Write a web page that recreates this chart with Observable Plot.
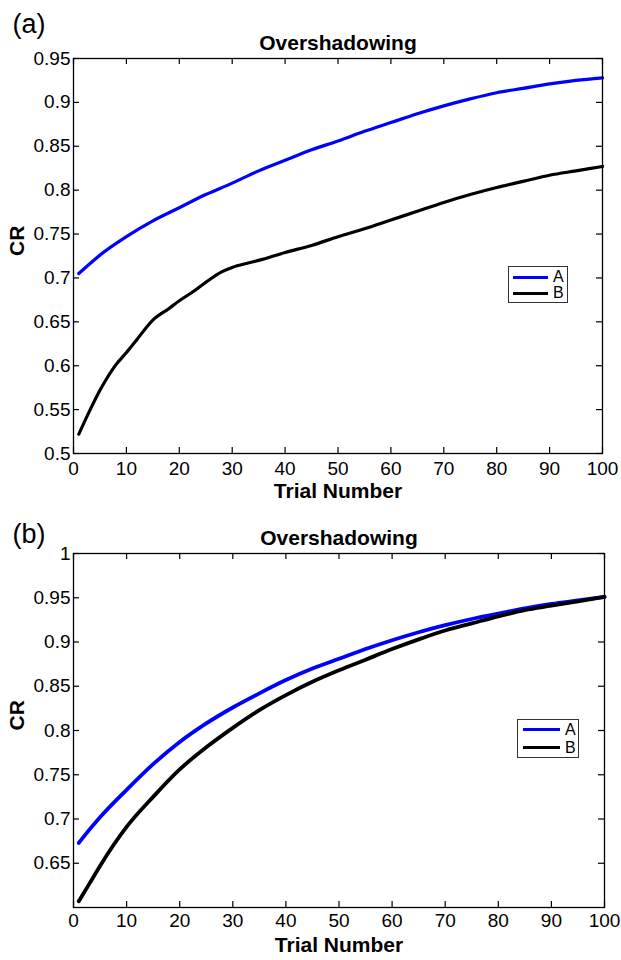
<!DOCTYPE html>
<html><head><meta charset="utf-8">
<script src="https://cdn.jsdelivr.net/npm/d3@7"></script>
<script src="https://cdn.jsdelivr.net/npm/@observablehq/plot@0.6"></script>
<style>
body{margin:0;background:#fff;}
#wrap{position:relative;width:621px;height:960px;font-family:"Liberation Sans",Arial,Helvetica,sans-serif;background:#fff;}
#wrap svg{display:block;overflow:visible;}
.legend{position:absolute;border:1px solid #333;background:#fff;box-sizing:border-box;}
.legend .sw{position:absolute;height:0;border-top-style:solid;}
.legend .lb{position:absolute;font-size:16px;line-height:16px;color:#000;}
</style></head><body><div id="wrap"></div>
<script>
// ---- data ----
const seriesNames = ["A", "B"];
const seriesColors = ["#0000ff", "#000000"];
const panelTitle = "Overshadowing";
const panelTags = ["(a)", "(b)"];
const xLabel = "Trial Number";
const yLabel = "CR";
const xTicks = [0, 10, 20, 30, 40, 50, 60, 70, 80, 90, 100];
const yTicksA = [0.5, 0.55, 0.6, 0.65, 0.7, 0.75, 0.8, 0.85, 0.9, 0.95];
const yTicksB = [0.65, 0.7, 0.75, 0.8, 0.85, 0.9, 0.95, 1];

// panel (a)
const trialsBlueA = [1, 5, 10, 15, 20, 25, 30, 35, 40, 45, 50, 55, 60, 65, 70, 75, 80, 85, 90, 95, 100];
const crBlueA     = [0.705, 0.726, 0.747, 0.765, 0.780, 0.795, 0.808, 0.822, 0.834, 0.846, 0.856, 0.867, 0.877, 0.887, 0.896, 0.904, 0.911, 0.916, 0.921, 0.925, 0.928];
const trialsBlackA = [1, 3, 5, 8, 10, 12, 15, 18, 20, 23, 25, 28, 30, 33, 35, 40, 45, 50, 55, 60, 65, 70, 75, 80, 85, 90, 95, 100];
const crBlackA     = [0.522, 0.548, 0.572, 0.601, 0.615, 0.630, 0.652, 0.665, 0.674, 0.686, 0.695, 0.707, 0.712, 0.717, 0.720, 0.729, 0.737, 0.747, 0.756, 0.766, 0.776, 0.786, 0.795, 0.803, 0.810, 0.817, 0.822, 0.827];

// panel (b)
const trialsB  = [1, 3, 5, 10, 15, 20, 25, 30, 35, 40, 45, 50, 55, 60, 65, 70, 75, 80, 85, 90, 95, 100];
const crBlueB  = [0.673, 0.688, 0.702, 0.733, 0.762, 0.787, 0.808, 0.826, 0.842, 0.857, 0.870, 0.881, 0.892, 0.902, 0.911, 0.919, 0.926, 0.932, 0.938, 0.943, 0.947, 0.951];
const crBlackB = [0.607, 0.627, 0.647, 0.691, 0.725, 0.756, 0.781, 0.803, 0.823, 0.840, 0.855, 0.868, 0.880, 0.892, 0.903, 0.913, 0.921, 0.929, 0.936, 0.941, 0.946, 0.951];

// ---- drawing ----
const toRows = (xs, ys, s) => xs.map((x, i) => ({trial: x, cr: ys[i], series: s}));
const fmt = d => String(+d.toFixed(2));
const FONT = '"Liberation Sans", Arial, Helvetica, sans-serif';

function panel({height, mTop, mBottom, mLeft, mRight, yDomain, yTicks, rows, tag, lineWidth, titleDy, labelDy, xPad}) {
  const fw = 621 - mLeft - mRight;
  const fh = height - mTop - mBottom;
  const tl = 6;
  return Plot.plot({
    width: 621, height,
    marginTop: mTop, marginBottom: mBottom, marginLeft: mLeft, marginRight: mRight,
    style: {fontFamily: FONT, fontSize: "19px", color: "#000", background: "#fff", overflow: "visible"},
    x: {domain: [0, 100]},
    y: {domain: yDomain},
    color: {domain: seriesNames, range: seriesColors},
    marks: [
      Plot.axisX(xTicks, {tickSize: 0, tickPadding: xPad, tickFormat: fmt, label: null, fontSize: 19}),
      Plot.axisY(yTicks, {tickSize: 0, tickPadding: 3, tickFormat: fmt, label: null, fontSize: 19}),
      Plot.tickX(xTicks, {x: d => d, insetTop: fh - tl, stroke: "#000", strokeWidth: 1.2}),
      Plot.tickX(xTicks, {x: d => d, insetBottom: fh - tl, stroke: "#000", strokeWidth: 1.2}),
      Plot.tickY(yTicks, {y: d => d, insetRight: fw - tl, stroke: "#000", strokeWidth: 1.2}),
      Plot.tickY(yTicks, {y: d => d, insetLeft: fw - tl, stroke: "#000", strokeWidth: 1.2}),
      Plot.line(rows, {x: "trial", y: "cr", z: "series", stroke: "series", strokeWidth: lineWidth, curve: "monotone-x", strokeLinejoin: "round"}),
      Plot.frame({stroke: "#000", strokeWidth: 1.3}),
      Plot.text([panelTitle], {text: d => d, frameAnchor: "top", dy: titleDy, lineAnchor: "bottom", fontWeight: "bold", fontSize: 21}),
      Plot.text([xLabel], {text: d => d, frameAnchor: "bottom", dy: labelDy, lineAnchor: "top", fontWeight: "bold", fontSize: 21}),
      Plot.text([yLabel], {text: d => d, frameAnchor: "left", dx: -mLeft + 17, rotate: -90, fontWeight: "bold", fontSize: 21}),
      Plot.text([tag], {text: d => d, frameAnchor: "top-left", dx: -mLeft + 12, dy: -mTop + 13, textAnchor: "start", lineAnchor: "top", fontSize: 27})
    ]
  });
}

const wrap = document.getElementById("wrap");

const rowsA = [...toRows(trialsBlueA, crBlueA, seriesNames[0]), ...toRows(trialsBlackA, crBlackA, seriesNames[1])];
const rowsB = [...toRows(trialsB, crBlueB, seriesNames[0]), ...toRows(trialsB, crBlackB, seriesNames[1])];

wrap.appendChild(panel({height: 510, mTop: 58, mBottom: 57, mLeft: 73, mRight: 19, yDomain: [0.5, 0.95], yTicks: yTicksA, rows: rowsA, tag: panelTags[0], lineWidth: 3.2, titleDy: -9, labelDy: 30, xPad: 8}));
wrap.appendChild(panel({height: 450, mTop: 43, mBottom: 53, mLeft: 73, mRight: 17, yDomain: [0.6, 1], yTicks: yTicksB, rows: rowsB, tag: panelTags[1], lineWidth: 3.8, titleDy: -9, labelDy: 30, xPad: 6}));

// legends (HTML overlays)
function legend(box, lines, lw) {
  const d = document.createElement("div");
  d.className = "legend";
  Object.assign(d.style, {left: box.x + "px", top: box.y + "px", width: box.w + "px", height: box.h + "px"});
  seriesNames.forEach((name, i) => {
    const sw = document.createElement("div");
    sw.className = "sw";
    Object.assign(sw.style, {left: lines.x0 + "px", width: lines.len + "px", top: (lines.ys[i] - lw / 2) + "px", borderTopWidth: lw + "px", borderTopColor: seriesColors[i]});
    const lb = document.createElement("div");
    lb.className = "lb";
    lb.textContent = name;
    Object.assign(lb.style, {left: lines.tx + "px", top: (lines.ys[i] - 8) + "px"});
    d.appendChild(sw); d.appendChild(lb);
  });
  wrap.appendChild(d);
}
legend({x: 508, y: 266, w: 60, h: 37}, {x0: 4, len: 35, ys: [10, 26], tx: 44}, 3);
legend({x: 517, y: 719, w: 62, h: 39}, {x0: 5, len: 37, ys: [10, 28], tx: 47}, 3.5);
</script>
</body></html>
